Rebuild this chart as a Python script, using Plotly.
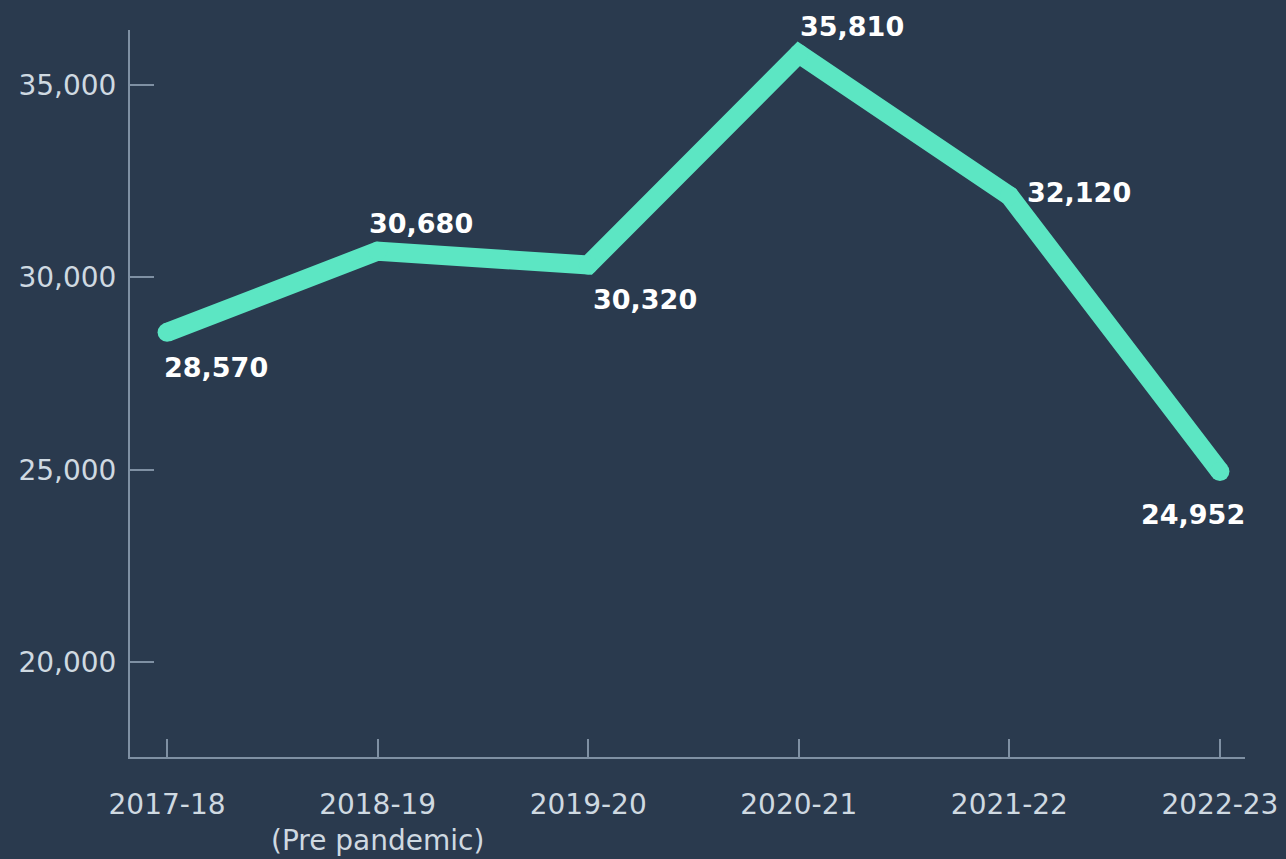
import plotly.graph_objects as go

years = ["2017-18", "2018-19", "2019-20", "2020-21", "2021-22", "2022-23"]
tick_labels = ["2017-18", "2018-19<br>(Pre pandemic)", "2019-20", "2020-21", "2021-22", "2022-23"]
values = [28570, 30680, 30320, 35810, 32120, 24952]
value_labels = ["28,570", "30,680", "30,320", "35,810", "32,120", "24,952"]
y_ticks = [20000, 25000, 30000, 35000]
y_tick_text = ["20,000", "25,000", "30,000", "35,000"]

# label offsets (pixels) per point: (xshift, yshift)
offsets = [(49, -35), (43, 28), (57, -34), (53, 27), (70, 3), (-27, -43)]

BG = "#2a3a4e"
AXIS = "#7f90a3"
TICKFONT = "#cfd9e1"
LINE = "#5ce6c3"

xs = list(range(len(years)))

fig = go.Figure()
fig.add_trace(go.Scatter(
    x=xs, y=values, mode="lines+markers",
    line=dict(color=LINE, width=19),
    marker=dict(color=LINE, size=19, line=dict(width=0)),
    hoverinfo="skip",
))

for i, (v, lab) in enumerate(zip(values, value_labels)):
    dx, dy = offsets[i]
    fig.add_annotation(
        x=xs[i], y=v, text="<b>" + lab + "</b>", showarrow=False,
        xshift=dx, yshift=dy,
        font=dict(family="DejaVu Sans", size=27, color="#ffffff"),
    )

fig.update_layout(
    width=1286, height=859,
    paper_bgcolor=BG, plot_bgcolor=BG,
    margin=dict(l=130, r=41, t=30, b=102),
    showlegend=False,
    font=dict(family="DejaVu Sans", color=TICKFONT),
)
fig.update_xaxes(
    range=[-0.176, 5.119], automargin=False,
    tickmode="array", tickvals=xs, ticktext=tick_labels,
    showgrid=False, zeroline=False,
    showline=True, linecolor=AXIS, linewidth=2,
    ticks="inside", ticklen=18, tickwidth=2, tickcolor=AXIS,
    tickfont=dict(family="DejaVu Sans", size=28, color=TICKFONT),
    ticklabelstandoff=21,
)
fig.update_yaxes(
    range=[17532, 36429], automargin=False,
    tickmode="array", tickvals=y_ticks, ticktext=y_tick_text,
    showgrid=False, zeroline=False,
    showline=True, linecolor=AXIS, linewidth=2,
    ticks="inside", ticklen=24, tickwidth=2, tickcolor=AXIS,
    tickfont=dict(family="DejaVu Sans", size=28, color=TICKFONT),
    ticklabelstandoff=6,
)

fig.write_html("out.html")
